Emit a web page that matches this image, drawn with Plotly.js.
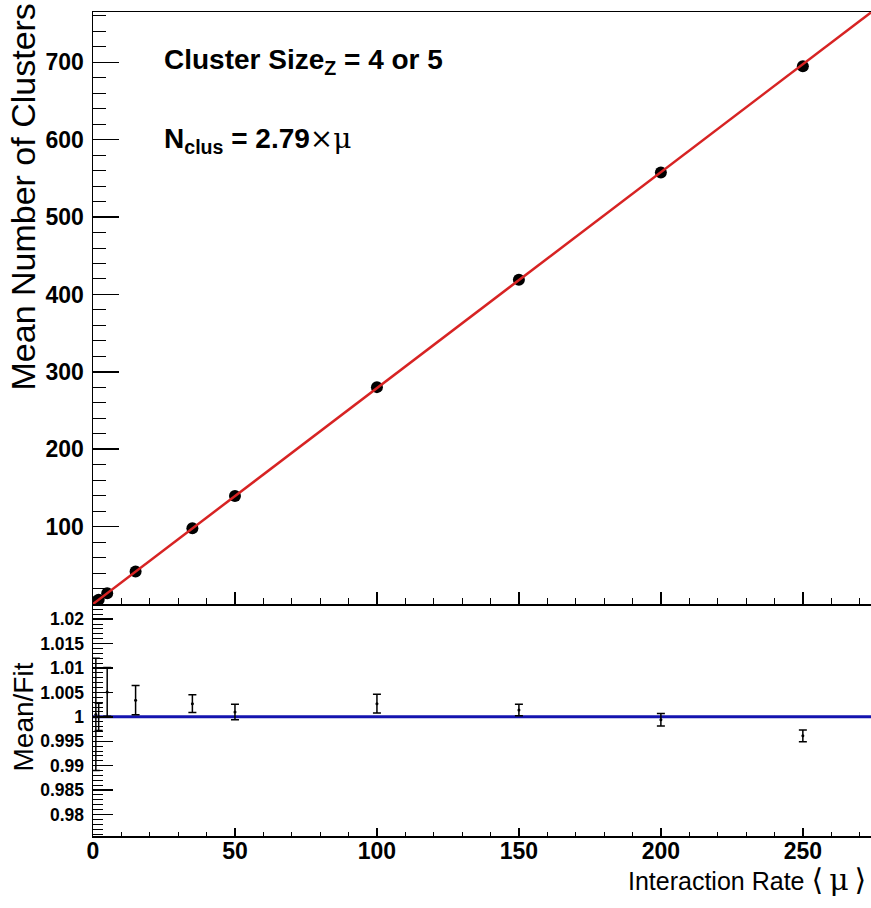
<!DOCTYPE html>
<html>
<head>
<meta charset="utf-8">
<script src="https://cdn.plot.ly/plotly-3.0.1.min.js"></script>
<style>html,body{margin:0;padding:0;background:#fff;}#chart{width:871px;height:908px;}</style>
</head>
<body>
<div id="chart"></div>
<script>
// ---- data ----
const mu = [1, 2, 5, 15, 35, 50, 100, 150, 200, 250];
const meanClusters = [2.79, 5.58, 14.02, 41.99, 97.91, 139.64, 280.25, 419.09, 557.67, 694.78];
const ratio = [1.0005, 1.0000, 1.0051, 1.0034, 1.0027, 1.0010, 1.0027, 1.0014, 0.9994, 0.9961];
const ratioErr = [0.0115, 0.0028, 0.0050, 0.0030, 0.0018, 0.0016, 0.0019, 0.0012, 0.0013, 0.0012];
const fitSlope = 2.79;
const fitX = [0, 274];
const fitY = fitX.map(v => fitSlope * v);
const unityX = [0, 274];
const unityY = [1, 1];
const xTickVals = [0, 50, 100, 150, 200, 250];
const yTopTickVals = [100, 200, 300, 400, 500, 600, 700];
const yBotTickVals = [0.98, 0.985, 0.99, 0.995, 1, 1.005, 1.01, 1.015, 1.02];
const yBotTickText = ["0.98", "0.985", "0.99", "0.995", "1", "1.005", "1.01", "1.015", "1.02"];

const W = 871, H = 908;
const M = {l: 93, r: 0, t: 12, b: 72};
const PW = W - M.l - M.r, PH = H - M.t - M.b;
const split = (836 - 604) / PH;
const px = p => (p - M.l) / PW;          // pixel x -> paper x
const py = p => (H - M.b - p) / PH;      // pixel y -> paper y

const FONT = 'Liberation Sans, Arial, Helvetica, sans-serif';

const traces = [
  {x: mu, y: meanClusters, xaxis: 'x', yaxis: 'y', type: 'scatter', mode: 'markers',
   marker: {color: 'black', size: 12}, hoverinfo: 'skip'},
  {x: fitX, y: fitY, xaxis: 'x', yaxis: 'y', type: 'scatter', mode: 'lines',
   line: {color: 'rgb(215,35,35)', width: 2.5}, hoverinfo: 'skip'},
  {x: unityX, y: unityY, xaxis: 'x2', yaxis: 'y2', type: 'scatter', mode: 'lines',
   line: {color: 'rgb(20,20,175)', width: 3}, hoverinfo: 'skip'},
  {x: mu, y: ratio, xaxis: 'x2', yaxis: 'y2', type: 'scatter', mode: 'markers',
   marker: {color: 'black', size: 3},
   error_y: {type: 'data', array: ratioErr, visible: true, color: 'black', thickness: 1.5, width: 4},
   hoverinfo: 'skip'}
];

const axCommon = {showgrid: false, zeroline: false, showline: true, linecolor: 'black', linewidth: 1.5,
  tickcolor: 'black', tickwidth: 1.5, ticks: 'inside'};

const layout = {
  width: W, height: H, margin: M, showlegend: false,
  paper_bgcolor: 'white', plot_bgcolor: 'white',
  font: {family: FONT, color: 'black'},
  xaxis: Object.assign({}, axCommon, {domain: [0, 1], anchor: 'y', range: [0, 274], mirror: true,
    tickmode: 'array', tickvals: xTickVals, ticklen: 12, showticklabels: false,
    minor: {ticks: 'inside', dtick: 10, tick0: 0, ticklen: 6, tickcolor: 'black', tickwidth: 1}}),
  yaxis: Object.assign({}, axCommon, {domain: [split, 1], anchor: 'x', range: [0, 765],
    tickmode: 'array', tickvals: yTopTickVals, ticklen: 26, ticklabelstandoff: 3,
    tickfont: {family: FONT, size: 23, weight: 'bold', color: 'black'},
    minor: {ticks: 'inside', dtick: 20, tick0: 0, ticklen: 13, tickcolor: 'black', tickwidth: 1}}),
  xaxis2: Object.assign({}, axCommon, {domain: [0, 1], anchor: 'y2', range: [0, 274],
    tickmode: 'array', tickvals: xTickVals, ticklen: 8, ticklabelstandoff: -6,
    tickfont: {family: FONT, size: 23, weight: 'bold', color: 'black'},
    minor: {ticks: 'inside', dtick: 10, tick0: 0, ticklen: 4, tickcolor: 'black', tickwidth: 1}}),
  yaxis2: Object.assign({}, axCommon, {domain: [0, split], anchor: 'x2', range: [0.9756, 1.0231],
    tickmode: 'array', tickvals: yBotTickVals, ticktext: yBotTickText, ticklen: 20, ticklabelstandoff: 4,
    tickfont: {family: FONT, size: 17.5, weight: 'bold', color: 'black'},
    minor: {ticks: 'inside', dtick: 0.001, tick0: 0, ticklen: 10, tickcolor: 'black', tickwidth: 1}}),
  annotations: [
    {text: 'Mean Number of Clusters', textangle: -90, showarrow: false,
     xref: 'paper', x: px(22), xanchor: 'center', yref: 'paper', y: 1, yanchor: 'top', yshift: 10,
     font: {family: FONT, size: 34, color: 'black'}},
    {text: 'Mean/Fit', textangle: -90, showarrow: false,
     xref: 'paper', x: px(23), xanchor: 'center', yref: 'paper', y: py(717.5), yanchor: 'middle',
     font: {family: FONT, size: 28, color: 'black'}},
    {text: 'Interaction Rate <span style="font-family:DejaVu Serif;font-size:30px">⟨\u2009μ\u2009⟩</span>', showarrow: false,
     xref: 'paper', x: px(868), xanchor: 'right', yref: 'paper', y: 0, yanchor: 'top', yshift: -24,
     font: {family: FONT, size: 25, color: 'black'}},
    {text: '<b>Cluster Size<sub>Z</sub> = 4 or 5</b>', showarrow: false,
     xref: 'paper', x: px(162), xanchor: 'left', yref: 'paper', y: 1, yanchor: 'top', yshift: -30,
     font: {family: FONT, size: 28, color: 'black'}},
    {text: '<b>N<sub>clus</sub> = 2.79</b><span style="font-family:DejaVu Serif">×μ</span>', showarrow: false,
     xref: 'paper', x: px(162), xanchor: 'left', yref: 'paper', y: 1, yanchor: 'top', yshift: -108,
     font: {family: FONT, size: 28, color: 'black'}}
  ]
};

Plotly.newPlot('chart', traces, layout, {staticPlot: true, displayModeBar: false});
</script>
</body>
</html>
